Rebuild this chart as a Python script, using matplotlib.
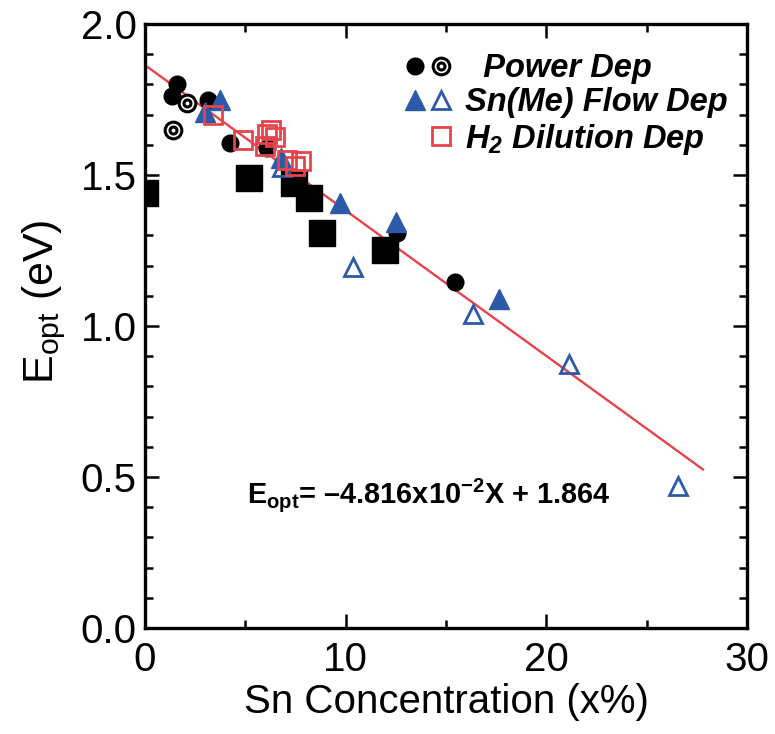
import matplotlib
matplotlib.use("Agg")
import matplotlib.pyplot as plt
from matplotlib.legend_handler import HandlerTuple
from matplotlib.lines import Line2D
from matplotlib.path import Path
import numpy as np

plt.rcParams['font.family'] = ['Liberation Sans', 'DejaVu Sans']
plt.rcParams['mathtext.fontset'] = 'custom'
plt.rcParams['mathtext.rm'] = 'Liberation Sans'
plt.rcParams['mathtext.it'] = 'Liberation Sans:italic'
plt.rcParams['mathtext.bf'] = 'Liberation Sans:bold'

# ---- data ----
power_filled_x = [1.33, 1.58, 3.15, 4.24, 6.06, 12.54, 15.45]
power_filled_y = [1.76, 1.80, 1.75, 1.605, 1.59, 1.307, 1.147]
power_open_x = [2.08, 1.41]
power_open_y = [1.737, 1.65]
power_sq_x = [0.0, 5.2, 7.44, 8.19, 8.8, 11.96]
power_sq_y = [1.44, 1.49, 1.472, 1.423, 1.307, 1.252]

sn_filled_x = [3.0, 3.74, 6.8, 9.72, 12.5, 17.65]
sn_filled_y = [1.71, 1.75, 1.555, 1.406, 1.345, 1.088]
sn_open_x = [6.85, 10.35, 16.36, 21.14, 26.57]
sn_open_y = [1.525, 1.194, 1.04, 0.874, 0.47]

h2_x = [3.4, 4.9, 6.1, 6.3, 6.5, 6.0, 7.1, 7.8, 7.5]
h2_y = [1.70, 1.615, 1.635, 1.648, 1.625, 1.595, 1.55, 1.545, 1.53]

slope = -4.816e-2
intercept = 1.864
fit_x = np.array([0.0, 27.8])

xticks = [0, 10, 20, 30]
yticks = [0.0, 0.5, 1.0, 1.5, 2.0]

BLUE = '#2d5aa8'
RED = '#e8434a'

# concentric-circle ("bullseye") marker
_c = Path.unit_circle()
BULLSEYE = Path.make_compound_path(_c, Path(_c.vertices * 0.42, _c.codes))

fig = plt.figure(figsize=(7.75, 7.34), dpi=100)
ax = fig.add_axes([0.187, 0.1444, 0.777, 0.8229])

ax.plot(fit_x, slope * fit_x + intercept, color=RED, lw=1.7, zorder=2)

ax.plot(power_sq_x, power_sq_y, 's', color='black', ms=18.5, zorder=3)
ax.plot(h2_x, h2_y, 's', mfc='none', mec=RED, mew=2.0, ms=13, zorder=4)
ax.plot(power_filled_x, power_filled_y, 'o', color='black', ms=12, zorder=3)
ax.plot(power_open_x, power_open_y, ls='none', marker=BULLSEYE, mfc='white',
        mec='black', mew=2.2, ms=12, zorder=3)
ax.plot(sn_filled_x, sn_filled_y, '^', color=BLUE, ms=15, zorder=3)
ax.plot(sn_open_x, sn_open_y, '^', mfc='none', mec=BLUE, mew=2.0, ms=13, zorder=3)

ax.set_xlim(0, 30)
ax.set_ylim(0, 2.0)
ax.set_xticks(xticks)
ax.set_yticks(yticks)
ax.set_xticklabels([str(v) for v in xticks])
ax.set_yticklabels([f"{v:.1f}" for v in yticks])
ax.set_xticks(np.arange(0, 31, 5), minor=True)
ax.set_yticks(np.arange(0, 2.01, 0.1), minor=True)
ax.tick_params(which='both', direction='in', top=True, right=True, width=1.8,
               labelsize=29)
ax.tick_params(axis='x', pad=9)
ax.tick_params(axis='y', pad=6)
ax.tick_params(which='major', length=10)
ax.tick_params(which='minor', length=5.5)
for s in ax.spines.values():
    s.set_linewidth(2.4)

ax.set_xlabel('Sn Concentration (x%)', fontsize=29, labelpad=3)
ax.set_ylabel(r'E$_{\mathregular{opt}}$ (eV)', fontsize=31)
ax.yaxis.set_label_coords(-0.128, 0.54)

ax.text(5.1, 0.44, r'E$_{\mathregular{opt}}$= –4.816x10$^{\mathregular{-2}}$X + 1.864',
        fontsize=20.8, fontweight='bold', va='center', ha='left')

# legend
h_pf = Line2D([], [], marker='o', ls='none', color='black', ms=12)
h_po = Line2D([], [], marker=BULLSEYE, ls='none', mfc='white', mec='black', mew=2.2, ms=12)
h_sf = Line2D([], [], marker='^', ls='none', color=BLUE, ms=14)
h_so = Line2D([], [], marker='^', ls='none', mfc='none', mec=BLUE, mew=2.0, ms=13)
h_blank = Line2D([], [], ls='none', marker='none')
h_h2 = Line2D([], [], marker='s', ls='none', mfc='none', mec=RED, mew=2.0, ms=13)

leg = ax.legend([(h_pf, h_po), (h_sf, h_so), (h_blank, h_h2)],
                ['  Power Dep', 'Sn(Me) Flow Dep', r'H$_{\mathregular{2}}$ Dilution Dep'],
                handler_map={tuple: HandlerTuple(ndivide=None, pad=0)},
                loc='upper left', bbox_to_anchor=(0.427, 0.952), frameon=False,
                prop={'weight': 'bold', 'style': 'italic', 'size': 23.5},
                handlelength=1.6, handletextpad=0.32, labelspacing=0.1,
                borderpad=0, borderaxespad=0)

fig.savefig('out.png', dpi=100)
